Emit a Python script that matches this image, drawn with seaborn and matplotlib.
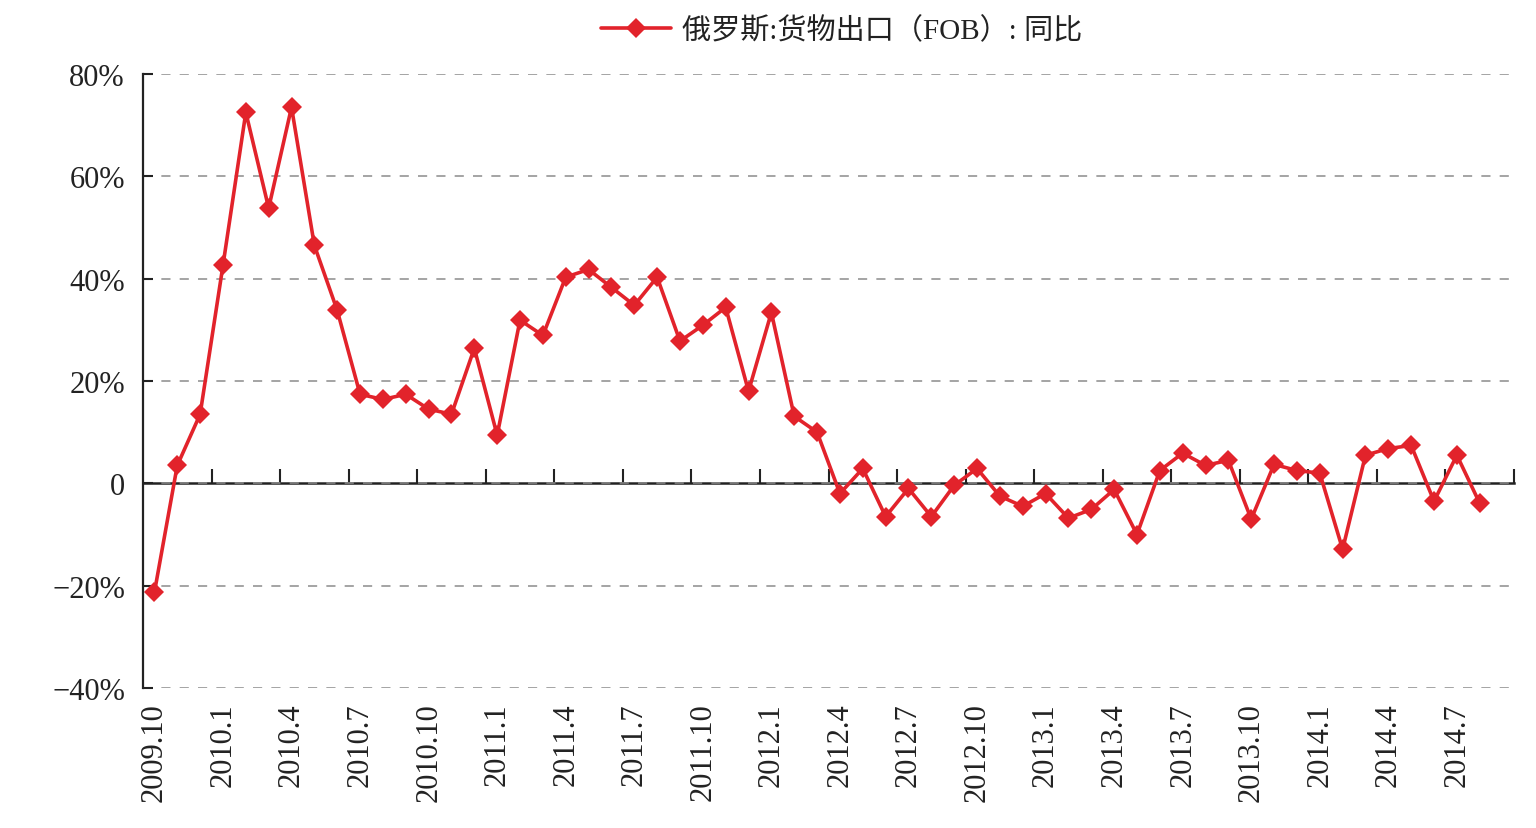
import numpy as np
import pandas as pd
import matplotlib
matplotlib.use("Agg")
import matplotlib.pyplot as plt
import seaborn as sns

# monthly categories 2009.10 - 2014.9 (last one has no data)
months = [f"{p.year}.{p.month}" for p in pd.period_range("2009-10", "2014-09", freq="M")]

# 俄罗斯货物出口(FOB)同比, %  (2009.10 - 2014.8)
yoy = [-21.3, 3.5, 13.5, 42.6, 72.5, 53.8, 73.5, 46.5, 33.8, 17.4,
       16.4, 17.4, 14.5, 13.5, 26.4, 9.4, 31.9, 28.9, 40.3, 41.8,
       38.3, 34.8, 40.3, 27.8, 30.9, 34.4, 18.0, 33.4, 13.1, 10.0,
       -2.0, 2.9, -6.5, -1.0, -6.5, -0.4, 2.9, -2.5, -4.5, -2.0,
       -6.8, -5.1, -1.2, -10.0, 2.5, 5.9, 3.5, 4.5, -7.0, 3.7,
       2.5, 2.0, -12.9, 5.5, 6.8, 7.4, -3.5, 5.5, -3.9]

tick_labels = ["2009.10", "2010.1", "2010.4", "2010.7", "2010.10",
               "2011.1", "2011.4", "2011.7", "2011.10", "2012.1",
               "2012.4", "2012.7", "2012.10", "2013.1", "2013.4",
               "2013.7", "2013.10", "2014.1", "2014.4", "2014.7"]

y_ticks = [80, 60, 40, 20, 0, -20, -40]
y_tick_labels = ["80%", "60%", "40%", "20%", "0", "\u221220%", "\u221240%"]

series_name = "俄罗斯:货物出口（FOB）: 同比"
red = "#E2232B"

sns.set_theme(style="white")
plt.rcParams["font.family"] = ["Liberation Serif", "Noto Sans CJK SC", "DejaVu Sans"]

df = pd.DataFrame({"month": months[:len(yoy)], "yoy": yoy})
df["pos"] = [months.index(m) for m in df["month"]]

fig = plt.figure(figsize=(15.36, 8.29), dpi=100)
ax = fig.add_axes([143 / 1536, 1 - 689 / 829, (1514 - 143) / 1536, (689 - 75) / 829])

sns.lineplot(data=df, x="pos", y="yoy", ax=ax, color=red, linewidth=2.6,
             marker="D", markersize=10.5, markeredgecolor=red, markeredgewidth=0,
             label=series_name)

ax.set_xlim(-0.5, len(months) - 0.5)
ax.set_ylim(-40, 80)
ax.set_xlabel("")
ax.set_ylabel("")

# y axis
ax.set_yticks(y_ticks)
ax.set_yticklabels(y_tick_labels)
ax.tick_params(axis="y", direction="in", length=7, width=1.5, color="#222222",
               labelsize=22, pad=13, labelcolor="#222222", left=True)
ax.yaxis.grid(True, linestyle=(0, (6, 6)), color="#8c8c8c", linewidth=1.1)
for s in ["top", "right", "bottom"]:
    ax.spines[s].set_visible(False)
ax.spines["left"].set_color("#222222")
ax.spines["left"].set_linewidth(1.6)

# x labels at bottom, every 3 months
ax.set_xticks([months.index(t) for t in tick_labels])
ax.set_xticklabels(tick_labels, rotation=90)
ax.tick_params(axis="x", length=0, labelsize=22, pad=10, labelcolor="#222222")

# zero line with boundary ticks pointing up
zero_ax = ax.secondary_xaxis(0, transform=ax.transData)
zero_ax.spines["bottom"].set_color("#222222")
zero_ax.spines["bottom"].set_linewidth(1.8)
zero_ax.set_xticks(np.arange(2.5, len(months), 3))
zero_ax.tick_params(axis="x", direction="in", length=10, width=1.5, color="#222222",
                    labelbottom=False)

handles, labels = ax.get_legend_handles_labels()
ax.get_legend().remove()
fig.legend(handles, labels, loc="center", bbox_to_anchor=(0.548, 1 - 31 / 829),
           frameon=False, fontsize=21, handlelength=2.4, handletextpad=0.4,
           labelcolor="#222222")

fig.savefig("out.png", dpi=100, facecolor="white")
